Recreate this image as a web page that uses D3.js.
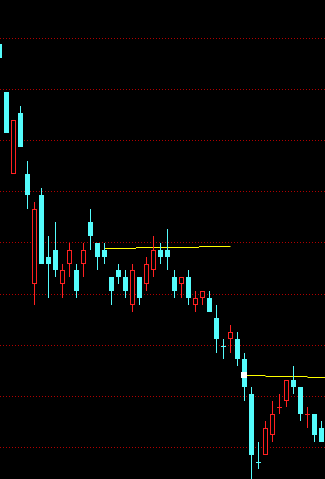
<!DOCTYPE html>
<html>
<head>
<meta charset="utf-8">
<script src="https://cdn.jsdelivr.net/npm/d3@7"></script>
<style>
    html, body { margin: 0; padding: 0; background: #000; overflow: hidden; }
    svg { display: block; }
</style>
</head>
<body>
<svg id="kline" width="325" height="479"></svg>
<script>
// daily bars, oldest first (first one is cut off by the left edge)
const opens  = [3.29, 3.22, 3.10, 3.19, 3.10, 2.94, 3.07, 2.98, 2.99, 2.94,
                2.97, 2.96, 2.97, 3.03, 3.00, 2.99, 2.95, 2.96, 2.95, 2.91,
                2.95, 2.94, 2.96, 2.99, 2.99, 2.95, 2.94, 2.95, 2.91, 2.92,
                2.92, 2.89, 2.85, 2.86, 2.86, 2.83, 2.78, 2.68, 2.69, 2.72,
                2.76, 2.77, 2.80, 2.79, 2.75, 2.75, 2.73];
const highs  = [3.29, 3.22, 3.18, 3.20, 3.12, 3.06, 3.08, 3.01, 3.03, 2.97,
                3.00, 2.97, 3.00, 3.05, 3.00, 3.00, 2.95, 2.97, 2.96, 2.97,
                2.95, 2.98, 3.01, 3.00, 3.02, 2.96, 2.95, 2.96, 2.93, 2.93,
                2.93, 2.91, 2.86, 2.88, 2.87, 2.84, 2.79, 2.71, 2.74, 2.77,
                2.78, 2.80, 2.82, 2.79, 2.76, 2.75, 2.74];
const lows   = [3.27, 3.16, 3.10, 3.14, 3.05, 2.91, 2.97, 2.92, 2.95, 2.92,
                2.95, 2.92, 2.95, 2.99, 2.96, 2.97, 2.91, 2.94, 2.92, 2.90,
                2.91, 2.93, 2.95, 2.97, 2.96, 2.92, 2.92, 2.91, 2.90, 2.91,
                2.90, 2.84, 2.83, 2.84, 2.82, 2.77, 2.64, 2.67, 2.69, 2.71,
                2.75, 2.76, 2.78, 2.74, 2.73, 2.71, 2.71];
const closes = [3.27, 3.16, 3.18, 3.14, 3.07, 3.05, 2.97, 2.97, 2.96, 2.96,
                2.99, 2.93, 2.99, 3.01, 2.98, 2.98, 2.93, 2.95, 2.93, 2.96,
                2.92, 2.97, 2.99, 2.98, 2.98, 2.93, 2.95, 2.92, 2.92, 2.93,
                2.90, 2.86, 2.85, 2.87, 2.83, 2.79, 2.69, 2.68, 2.73, 2.75,
                2.76, 2.80, 2.79, 2.75, 2.75, 2.72, 2.71];

// dotted grid levels (the window is split evenly, so not round prices)
const gridLevels = [3.2978, 3.2234, 3.1489, 3.0745, 3.0000, 2.9255, 2.8511, 2.7766, 2.7022];

// yellow step lines: [from bar, to bar, price]
const lineA = [[15, 19.5, 2.9920], [19.5, 28.5, 2.9934], [28.5, 33, 2.9949]];
const lineB = [[35, 38, 2.8066], [38, 44, 2.8051], [44, 48, 2.8036]];
const markerBar = 35;
const markerPrice = 2.8066;

const UP = '#ff2020';
const DOWN = '#54fcfc';

const svg = d3.select('#kline');
const width = +svg.attr('width');
const height = +svg.attr('height');

const bars = opens.map((o, i) => {
    const prev = i > 0 ? closes[i - 1] : o;
    let up = closes[i] > o;
    if (closes[i] === o) up = closes[i] >= prev;
    return { i: i, o: o, h: highs[i], l: lows[i], c: closes[i], up: up };
});

const x = d3.scaleLinear().domain([0, 46]).range([-0.5, 321.5]);
const y = d3.scaleLinear().domain([2.6555, 3.3547]).range([height, 0]);
const py = v => Math.round(y(v));

svg.append('rect')
    .attr('width', width)
    .attr('height', height)
    .attr('fill', '#000');

// grid
svg.append('g')
    .selectAll('line')
    .data(gridLevels)
    .enter().append('line')
    .attr('x1', 0)
    .attr('x2', width)
    .attr('y1', d => Math.floor(y(d)) + 0.5)
    .attr('y2', d => Math.floor(y(d)) + 0.5)
    .attr('stroke', '#b00000')
    .attr('stroke-width', 1)
    .attr('stroke-dasharray', '1,2');

// yellow lines
const segs = lineA.concat(lineB);
svg.append('g')
    .selectAll('line')
    .data(segs)
    .enter().append('line')
    .attr('x1', d => x(d[0]))
    .attr('x2', d => x(d[1]))
    .attr('y1', d => Math.floor(y(d[2])) + 0.5)
    .attr('y2', d => Math.floor(y(d[2])) + 0.5)
    .attr('stroke', '#ffff00')
    .attr('stroke-width', 1);

const g = svg.append('g');

// wicks
g.selectAll('.wick-hi')
    .data(bars)
    .enter().append('line')
    .attr('x1', d => x(d.i))
    .attr('x2', d => x(d.i))
    .attr('y1', d => py(d.h))
    .attr('y2', d => py(Math.max(d.o, d.c)))
    .attr('stroke', d => d.up ? UP : DOWN);

g.selectAll('.wick-lo')
    .data(bars)
    .enter().append('line')
    .attr('x1', d => x(d.i))
    .attr('x2', d => x(d.i))
    .attr('y1', d => py(Math.min(d.o, d.c)))
    .attr('y2', d => py(d.l))
    .attr('stroke', d => d.up ? UP : DOWN);

// bodies
const solid = bars.filter(d => d.o !== d.c && !d.up);
const hollow = bars.filter(d => d.o !== d.c && d.up);
const doji = bars.filter(d => d.o === d.c);

g.selectAll('.down')
    .data(solid)
    .enter().append('rect')
    .attr('x', d => x(d.i) - 2.5)
    .attr('y', d => py(d.o))
    .attr('width', 5)
    .attr('height', d => py(d.c) - py(d.o))
    .attr('fill', DOWN);

g.selectAll('.up')
    .data(hollow)
    .enter().append('rect')
    .attr('x', d => x(d.i) - 2)
    .attr('y', d => py(d.c) + 0.5)
    .attr('width', 4)
    .attr('height', d => py(d.o) - py(d.c) - 1)
    .attr('fill', '#000')
    .attr('stroke', UP)
    .attr('stroke-width', 1);

g.selectAll('.doji')
    .data(doji)
    .enter().append('line')
    .attr('x1', d => x(d.i) - 2.5)
    .attr('x2', d => x(d.i) + 2.5)
    .attr('y1', d => py(d.c) + 0.5)
    .attr('y2', d => py(d.c) + 0.5)
    .attr('stroke', d => d.up ? UP : DOWN);

// white marker where the second line starts
svg.append('rect')
    .attr('x', x(markerBar) - 3.5)
    .attr('y', py(markerPrice) - 3)
    .attr('width', 6)
    .attr('height', 6)
    .attr('fill', '#fff');
</script>
</body>
</html>
